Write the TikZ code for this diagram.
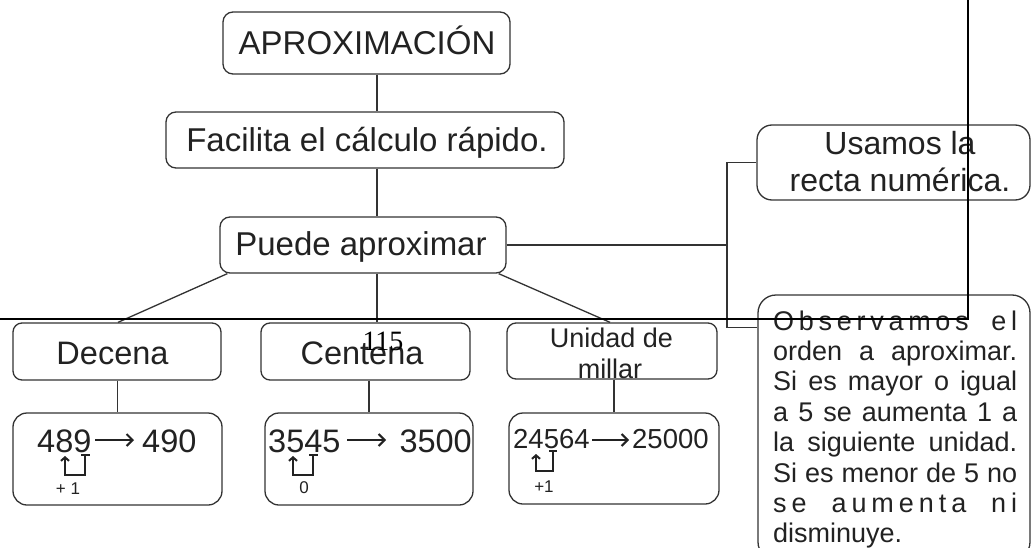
\documentclass[tikz,border=0pt]{standalone}
\usepackage{fontspec}
\setmainfont{Liberation Sans}
\newfontfamily\pagenumfont{Liberation Serif}
\usetikzlibrary{arrows.meta}
\definecolor{ink}{HTML}{333333}
\definecolor{txt}{HTML}{222222}
\newcommand{\fsz}[1]{\fontsize{#1}{#1}\selectfont}
\begin{document}
\begin{tikzpicture}[x=1pt,y=-1pt,
  rbox/.style={draw=ink, line width=1.3pt, rounded corners=#1, inner sep=0pt},
  rbox/.default=10pt,
  conn/.style={draw=ink, line width=1.3pt},
  lbl/.style={inner sep=0pt, anchor=base, text=txt},
  numarrow/.style={draw=txt, line width=2pt, -{Straight Barb[length=6pt,width=12pt]}},
  bracket/.style={draw=txt, line width=2pt, -{Straight Barb[length=3.5pt,width=8pt]}},
  tick/.style={draw=txt, line width=1.6pt},
  pageline/.style={draw=black, line width=2pt}]
\useasboundingbox (0,0) rectangle (1035,548);
\clip (0,0) rectangle (1035,548);
\fill[white] (0,0) rectangle (1035,548);

% boxes
\node[rbox, minimum width=287pt, minimum height=62pt] (aprox) at (366.5,43) {};
\node[rbox, minimum width=398pt, minimum height=56pt] (facil) at (365,140) {};
\node[rbox, minimum width=286pt, minimum height=56pt] (puede) at (363,245) {};
\node[rbox=9pt, minimum width=208pt, minimum height=57pt] (decena) at (117,351.5) {};
\node[rbox=9pt, minimum width=209pt, minimum height=57pt] (centena) at (365.5,351.5) {};
\node[rbox=9pt, minimum width=210pt, minimum height=56pt] (unidad) at (612,351) {};
\node[rbox=14pt, minimum width=209pt, minimum height=92pt] (b1) at (117.5,459) {};
\node[rbox=14pt, minimum width=208pt, minimum height=92pt] (b2) at (369,459) {};
\node[rbox=14pt, minimum width=210pt, minimum height=91pt] (b3) at (614,458.5) {};
\node[rbox=15pt, minimum width=273pt, minimum height=75pt] (usamos) at (893.5,162.5) {};
\node[rbox=18pt, minimum width=272pt, minimum height=265pt] (obs) at (894,427.5) {};

% texts
\node[lbl] (tA) at (367,55) {\fsz{33}APROXIMACIÓN};
\node[lbl] (tF) at (367,152) {\fsz{33}Facilita el cálculo rápido.};
\node[lbl] (tP) at (361,255) {\fsz{33}Puede aproximar};
\node[lbl] (tD) at (112.5,364) {\fsz{32.5}Decena};
\node[lbl] (tC) at (362,364) {\fsz{32.5}Centena};
\node[lbl] (tU1) at (611.5,347) {\fsz{27}Unidad de};
\node[lbl] (tU2) at (610,378) {\fsz{27}millar};
\node[lbl] (tUs) at (900,155) {\parbox[t]{270pt}{\centering\fontsize{32}{37}\selectfont Usamos la\\recta numérica.}};
\node[lbl, anchor=base west] (tObs) at (773,330) {\parbox[t]{244pt}{\fontsize{27}{30.4}\selectfont\setlength{\parindent}{0pt}%
\makebox[244pt][s]{O\hfil b\hfil s\hfil e\hfil r\hfil v\hfil a\hfil m\hfil o\hfil s\hskip 18pt plus 1fil e\hfil l}\par
\makebox[244pt][s]{orden a aproximar.}\par
\makebox[244pt][s]{Si es mayor o igual}\par
\makebox[244pt][s]{a 5 se aumenta 1 a}\par
\makebox[244pt][s]{la siguiente unidad.}\par
\makebox[244pt][s]{Si es menor de 5 no}\par
\makebox[244pt][s]{s\hfil e\hskip 20pt plus 1fil a\hfil u\hfil m\hfil e\hfil n\hfil t\hfil a\hskip 20pt plus 1fil n\hfil i}\par
disminuye.}};

% box 1 content
\node[lbl, anchor=base west] (n489) at (37,452) {\fsz{32.5}489};
\node[lbl, anchor=base west] (n490) at (142,452) {\fsz{32.5}490};
\draw[numarrow] (95,440) -- (134,440);
\draw[bracket] (85,455) -- (85,475) -- (65,475) -- (65,456);
\draw[tick] (81,455) -- (90,455);
\node[lbl] (p1) at (68,494) {\fsz{17}+ 1};

% box 2 content
\node[lbl, anchor=base west] (n3545) at (268,452) {\fsz{32.5}3545};
\node[lbl, anchor=base east] (n3500) at (472,452) {\fsz{32.5}3500};
\draw[numarrow] (347,440) -- (386,440);
\draw[bracket] (313,455) -- (313,475) -- (293,475) -- (293,456);
\draw[tick] (309,455) -- (318,455);
\node[lbl] (p0) at (304,493) {\fsz{17}0};

% box 3 content
\node[lbl, anchor=base west] (n24564) at (513,448) {\fsz{27.5}24564};
\node[lbl, anchor=base west] (n25000) at (632,448) {\fsz{27.5}25000};
\draw[numarrow] (592,440) -- (629,440);
\draw[bracket] (553,451) -- (553,471) -- (536,471) -- (536,454);
\draw[tick] (549,451) -- (557,451);
\node[lbl] (p2) at (544,492) {\fsz{17}+1};

% connectors
\coordinate (sp) at (377,0);
\coordinate (jx) at (727,0);
\draw[conn] (sp |- aprox.south) -- (sp |- facil.north);
\draw[conn] (sp |- facil.south) -- (sp |- puede.north);
\draw[conn] (sp |- puede.south) -- (sp |- centena.north);
\draw[conn] ([xshift=8pt]puede.south west) -- ([xshift=1pt]decena.north);
\draw[conn] ([xshift=-8pt]puede.south east) -- ([xshift=-2pt]unidad.north);
\draw[conn] (decena.south -| b1.north) -- (b1.north);
\draw[conn] (centena.south -| b2.north) -- (b2.north);
\draw[conn] (unidad.south -| b3.north) -- (b3.north);
\coordinate (oj) at ([yshift=-33pt]obs.north west);
\draw[conn] (puede.east) -- (jx |- puede.east);
\draw[conn] (usamos.west) -- (jx |- usamos.west) -- (jx |- oj) -- (oj);

% page number and page frame lines
\node[inner sep=0pt, anchor=base] (pnum) at (383,350) {\pagenumfont\fsz{28}115};
\coordinate (pl) at (0,319);
\coordinate (pc) at (968,319);
\coordinate (pt) at (968,0);
\draw[pageline] (pl) -- (pc) -- (pt);
\end{tikzpicture}
\end{document}
